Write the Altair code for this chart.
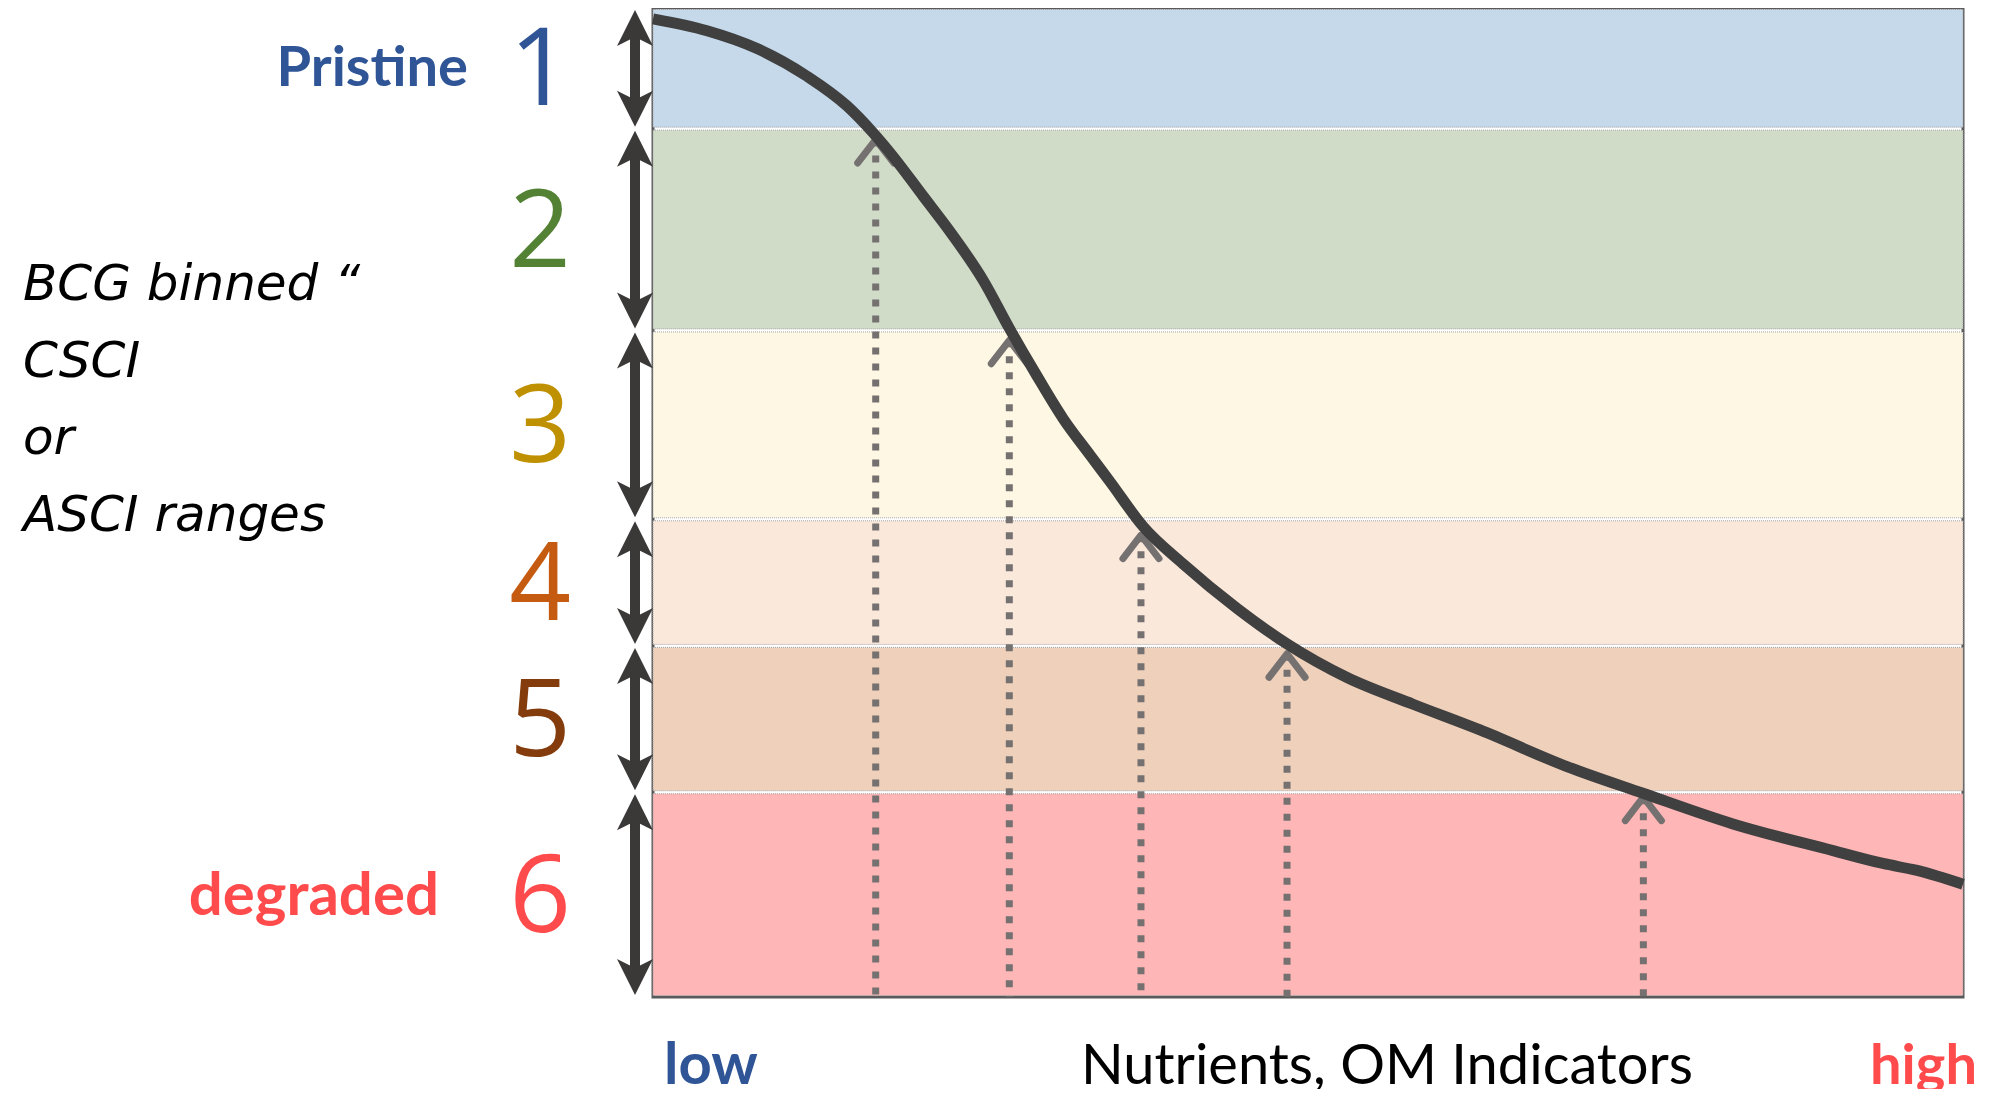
import altair as alt
import pandas as pd

# ---- data ----
levels = ["1", "2", "3", "4", "5", "6"]
band_top = [100, 87.8, 67.4, 48.3, 35.5, 20.7]
band_bottom = [87.8, 67.4, 48.3, 35.5, 20.7, 0]

end_labels = ["Pristine", "degraded"]
end_levels = ["1", "6"]

side_label_lines = ["BCG binned \u201c", "CSCI", "or", "ASCI ranges"]
axis_low = "low"
axis_title = "Nutrients, OM Indicators"
axis_high = "high"

# stressor gradient (0 = low, 100 = high) vs. biological condition score
curve_x = [0, 4.12, 7.94, 11.76, 14.81, 16.79, 18.32, 20.61, 22.67, 25.19, 27.25,
           29.31, 31.30, 33.36, 34.89, 37.40, 40.46, 44.58, 48.40, 52.98, 58.02,
           63.13, 69.77, 75.57, 82.44, 90.08, 93.89, 96.49, 100]
curve_y = [98.9, 97.7, 95.9, 93.1, 90.1, 87.4, 85.0, 81.0, 77.4, 72.5, 67.5,
           62.8, 58.5, 54.8, 52.1, 47.6, 43.8, 39.3, 35.7, 32.3, 29.6,
           27.0, 23.3, 20.6, 17.5, 14.8, 13.5, 12.8, 11.4]

# thresholds where the curve crosses into the next bin
cross_x = [17.0, 27.2, 37.25, 48.4, 75.6]
cross_y = [86.7, 66.4, 46.7, 34.7, 20.2]

# ---- styles ----
band_colors = ["#C5D9EA", "#D0DCC8", "#FEF7E3", "#FAE8DB", "#EFD0BB", "#FFB6B6"]
level_colors = ["#2F5597", "#548235", "#BF9000", "#C55A11", "#843C0C", "#FF4B4B"]
dark = "#3B3838"
grey = "#767171"

W, H = 1310, 989

bands = pd.DataFrame({"level": levels, "top": band_top, "bottom": band_bottom})
bands["mid"] = (bands["top"] + bands["bottom"]) / 2
curve = pd.DataFrame({"x": curve_x, "y": curve_y})
cross = pd.DataFrame({"x": cross_x, "y": cross_y})
ends = pd.DataFrame({"text": end_labels, "level": end_levels}).merge(bands, on="level")

xs = alt.Scale(domain=[0, 100], nice=False, zero=False)
ys = alt.Scale(domain=[0, 100], nice=False, zero=False)

band_layer = alt.Chart(bands).mark_rect(
    yOffset=1.5, y2Offset=-1.5, stroke="#A3A3A3", strokeWidth=1, strokeDash=[1, 1]
).encode(
    x=alt.value(0), x2=alt.value("width"),
    y=alt.Y("top:Q", scale=ys, axis=None), y2="bottom:Q",
    color=alt.Color("level:N", scale=alt.Scale(domain=levels, range=band_colors), legend=None),
)

dotted = alt.Chart(cross).mark_rule(color=grey, strokeWidth=7, strokeDash=[7, 9]).encode(
    x=alt.X("x:Q", scale=xs, axis=None),
    y=alt.Y("y:Q", scale=ys, axis=None),
    y2=alt.value("height"),
)

chevron = alt.Chart(cross).mark_point(
    shape="M-1,1.3L0,0L1,1.3", size=1300, filled=False, color=grey,
    strokeWidth=7, strokeCap="round", strokeJoin="round", opacity=1,
).encode(x=alt.X("x:Q", scale=xs, axis=None), y=alt.Y("y:Q", scale=ys, axis=None))

line = alt.Chart(curve).mark_line(
    color="#404040", strokeWidth=11, interpolate="monotone"
).encode(x=alt.X("x:Q", scale=xs, axis=None), y=alt.Y("y:Q", scale=ys, axis=None))

arrow_x = -18
shaft = alt.Chart(bands).mark_rule(color=dark, strokeWidth=10, yOffset=14, y2Offset=-14).encode(
    x=alt.value(arrow_x), y=alt.Y("top:Q", scale=ys, axis=None), y2="bottom:Q"
)
head_up = alt.Chart(bands).mark_point(
    shape="M0,0L1,2L0,1.5L-1,2Z", size=1296, filled=True, color=dark, opacity=1,
    strokeWidth=0, yOffset=2,
).encode(x=alt.value(arrow_x), y=alt.Y("top:Q", scale=ys, axis=None))
head_down = alt.Chart(bands).mark_point(
    shape="M0,0L1,-2L0,-1.5L-1,-2Z", size=1296, filled=True, color=dark, opacity=1,
    strokeWidth=0, yOffset=-2,
).encode(x=alt.value(arrow_x), y=alt.Y("bottom:Q", scale=ys, axis=None))

numbers = alt.Chart(bands).mark_text(
    font="Open Sans", fontSize=108, align="center", baseline="middle", dy=5
).encode(
    x=alt.value(-113), y=alt.Y("mid:Q", scale=ys, axis=None), text="level:N",
    color=alt.Color("level:N", scale=alt.Scale(domain=levels, range=level_colors), legend=None),
)

pristine = alt.Chart(ends[ends["level"] == "1"]).mark_text(
    font="Lato", fontWeight="bold", fontSize=56, align="right", baseline="alphabetic",
    dy=18, color=level_colors[0],
).encode(x=alt.value(-185), y=alt.Y("mid:Q", scale=ys, axis=None), text="text:N")

degraded = alt.Chart(ends[ends["level"] == "6"]).mark_text(
    font="Lato", fontWeight="bold", fontSize=60, align="right", baseline="alphabetic",
    dy=20, color=level_colors[5],
).encode(x=alt.value(-214), y=alt.Y("mid:Q", scale=ys, axis=None), text="text:N")

side = alt.Chart(bands.head(1)).mark_text(
    font="DejaVu Sans", fontStyle="italic", fontSize=50, align="left", baseline="alphabetic",
    lineHeight=77, color="black",
).encode(x=alt.value(-630), y=alt.value(292), text=alt.value(side_label_lines))

low = alt.Chart(bands.head(1)).mark_text(
    font="Lato", fontWeight="bold", fontSize=58, align="left", baseline="alphabetic",
    color=level_colors[0],
).encode(x=alt.value(11), y=alt.value(1076), text=alt.value(axis_low))

title = alt.Chart(bands.head(1)).mark_text(
    font="Lato", fontSize=56, align="center", baseline="alphabetic", color="black",
).encode(x=alt.value(734), y=alt.value(1076), text=alt.value(axis_title))

high = alt.Chart(bands.head(1)).mark_text(
    font="Lato", fontWeight="bold", fontSize=56, align="right", baseline="alphabetic",
    color=level_colors[5],
).encode(x=alt.value(1324), y=alt.value(1076), text=alt.value(axis_high))

chart = alt.layer(
    band_layer, dotted, chevron, line, shaft, head_up, head_down,
    numbers, pristine, degraded, side, low, title, high,
).resolve_scale(color="independent").properties(
    width=W, height=H,
    padding={"left": 645, "top": 0, "right": 20, "bottom": 92},
    autosize=alt.AutoSizeParams(type="none"),
    background="white",
).configure_view(stroke="#5A5A5A", strokeWidth=3)

chart.save("out.html", embed_options={"renderer": "svg", "actions": False})
